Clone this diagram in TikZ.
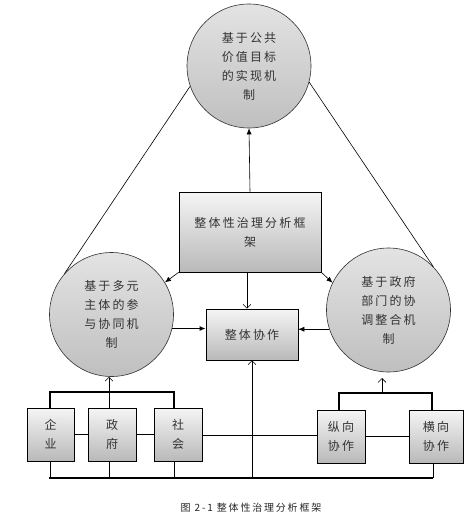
\documentclass[tikz,border=0pt]{standalone}
\usepackage{fontspec}
\newfontfamily\cjk[LetterSpace=18]{Noto Sans CJK SC}
\usetikzlibrary{arrows.meta,shadows,calc}
\tikzset{
  circ/.style={circle, draw=black!80, line width=0.6pt, top color=gray!22, bottom color=gray!50,
    minimum size=124pt, inner sep=0pt, align=center, font=\cjk\fontsize{12}{19}\selectfont, text=black!80},
  box/.style={rectangle, draw=black, line width=0.6pt, top color=gray!8, bottom color=gray!55,
    inner sep=0pt, align=center, font=\cjk\fontsize{12}{19}\selectfont, text=black!80,
    drop shadow={shadow xshift=1.2pt, shadow yshift=-1.2pt, fill=black, opacity=0.9}},
  thinline/.style={line width=0.6pt},
  thickline/.style={line width=1.6pt},
  fillarrow/.style={-{Latex[length=6pt,width=5pt]}},
  openarrow/.style={-{Straight Barb[length=4pt,width=8pt]}},
}
\begin{document}
\begin{tikzpicture}[x=1pt,y=-1pt]
\useasboundingbox (0,0) rectangle (476,527);
% nodes
\node[circ] (top) at (249,66) {基于公共\\价值目标\\的实现机\\制};
\node[circ] (lc) at (111.5,314.5) {基于多元\\主体的参\\与协同机\\制};
\node[circ] (rc) at (388.5,310) {基于政府\\部门的协\\调整合机\\制};
\node[box, minimum width=142pt, minimum height=80pt] (fw) at (250,232) {整体性治理分析框\\架};
\node[box, minimum width=92pt, minimum height=51pt] (coll) at (252,334.5) {整体协作};
\node[box, minimum width=47pt, minimum height=53pt] (qy) at (50.5,434.5) {企\\业};
\node[box, minimum width=48pt, minimum height=53pt] (zf) at (112,434.5) {政\\府};
\node[box, minimum width=48pt, minimum height=53pt] (sh) at (178,434.5) {社\\会};
\node[box, minimum width=48pt, minimum height=53pt] (zx) at (341,436.5) {纵向\\协作};
\node[box, minimum width=54pt, minimum height=53pt] (hx) at (436,436.5) {横向\\协作};
% triangle lines
\draw[thinline] (top.199) -- (lc.139);
\draw[thinline] (top.345) -- (rc.44);
% framework arrows
\draw[thinline, fillarrow] (fw.north) -- (top.south);
\draw[thinline, fillarrow] (fw.south west) -- (lc.31);
\draw[thinline, fillarrow] (fw.south east) -- (rc.154);
\draw[thinline, openarrow] ([xshift=-3pt]fw.south) -- ([xshift=-3pt]fw.south |- coll.north);
\draw[thickline, fillarrow] (lc.-13.5) -- (lc.-13.5 -| coll.west);
\draw[thinline, fillarrow] (rc.198) -- (rc.198 -| coll.east);
% left group
\coordinate (lb1) at (50,392);
\coordinate (lb2) at (174,392);
\draw[thickline] (qy.north -| lb1) -- (lb1) -- (lb2) -- (sh.north -| lb2);
\draw[thinline, openarrow] ([xshift=-3pt]zf.north) -- ([xshift=-3pt]zf.north |- lc.south);
\draw[thickline] (qy.east) -- (zf.west);
\draw[thickline] (zf.east) -- (sh.west);
\draw[thinline] ([yshift=-1pt]sh.east) -- ([yshift=1pt]zx.west);
\draw[thinline] (zx.east) -- (hx.west);
% bottom line
\coordinate (bl1) at (49,478);
\coordinate (bl2) at (433,478);
\draw[thickline] (bl1) -- (bl2);
\draw[thinline] (qy.south -| 50,0) -- (50,478);
\draw[thinline] (zf.south -| 109,0) -- (109,478);
\draw[thinline] (sh.south -| 174,0) -- (174,478);
\draw[thinline] (hx.south -| bl2) -- (bl2);
\draw[thinline, openarrow] (coll.south |- bl1) -- (coll.south);
% right group
\coordinate (rb1) at (339,393);
\coordinate (rb2) at (432,393);
\draw[thickline] (zx.north -| rb1) -- (rb1) -- (rb2) -- (hx.north -| rb2);
\draw[thinline, openarrow] (382,393) -- (382,378);
% caption
\node[font=\cjk\fontsize{10}{12}\selectfont, text=black!85] (cap) at (251,508) {图 2-1 整体性治理分析框架};
\end{tikzpicture}
\end{document}
